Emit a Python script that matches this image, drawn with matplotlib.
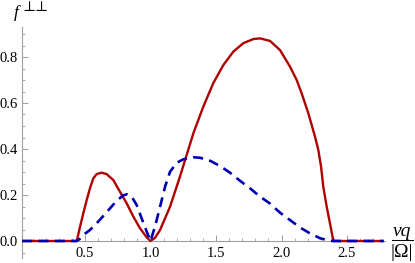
import matplotlib
matplotlib.use("Agg")
import matplotlib.pyplot as plt
from matplotlib.lines import Line2D
import numpy as np

plt.rcParams["font.family"] = ["Liberation Serif", "DejaVu Serif"]

# Data
red_x = [0.02, 0.437, 0.462, 0.487, 0.513, 0.538, 0.563, 0.589, 0.627, 0.665,
         0.716, 0.767, 0.818, 0.869, 0.920, 0.971, 1.0, 1.035, 1.073, 1.149,
         1.225, 1.276, 1.327, 1.403, 1.479, 1.556, 1.632, 1.708, 1.785, 1.836,
         1.912, 1.989, 2.065, 2.116, 2.154, 2.205, 2.256, 2.281, 2.302, 2.319,
         2.345, 2.370, 2.396, 2.78]
red_y = [0.0, 0.0, 0.062, 0.120, 0.178, 0.229, 0.272, 0.291, 0.297, 0.291,
         0.265, 0.214, 0.164, 0.106, 0.055, 0.016, 0.0, 0.014, 0.048, 0.149,
         0.280, 0.374, 0.468, 0.584, 0.686, 0.765, 0.823, 0.860, 0.878, 0.881,
         0.870, 0.830, 0.758, 0.700, 0.642, 0.555, 0.453, 0.396, 0.323, 0.236,
         0.149, 0.077, 0.0, 0.0]

blue_x = [0.02, 0.437, 0.46, 0.487, 0.538, 0.589, 0.640, 0.691, 0.742, 0.793,
          0.823, 0.856, 0.894, 0.932, 0.971, 1.0, 1.034, 1.073, 1.111, 1.149,
          1.200, 1.250, 1.327, 1.378, 1.454, 1.531, 1.607, 1.683, 1.760, 1.836,
          1.912, 1.989, 2.065, 2.141, 2.218, 2.294, 2.370, 2.40, 2.78]
blue_y = [0.0, 0.0, 0.009, 0.026, 0.048, 0.077, 0.109, 0.142, 0.175, 0.199,
          0.203, 0.193, 0.157, 0.099, 0.041, 0.0, 0.062, 0.149, 0.236, 0.301,
          0.340, 0.355, 0.364, 0.362, 0.349, 0.326, 0.297, 0.262, 0.229, 0.193,
          0.163, 0.123, 0.091, 0.059, 0.033, 0.012, 0.001, 0.0, 0.0]

x_ticks = [0.5, 1.0, 1.5, 2.0, 2.5]
x_tick_labels = ["0.5", "1.0", "1.5", "2.0", "2.5"]
y_ticks = [0.0, 0.2, 0.4, 0.6, 0.8]
y_tick_labels = ["0.0", "0.2", "0.4", "0.6", "0.8"]

W, H = 415, 263
fig = plt.figure(figsize=(W / 100, H / 100), dpi=100)
left_px, right_px, top_px, bottom_px = 22, 385, 27, 258
ax = fig.add_axes([left_px / W, 1 - bottom_px / H,
                   (right_px - left_px) / W, (bottom_px - top_px) / H])

x0 = (left_px - 19.5) / 131.0
x1 = (right_px - 19.5) / 131.0
ax.set_xlim(x0, x1)
ax.set_ylim(-(bottom_px - 241) / 230.0, (241 - top_px) / 230.0)
ax.patch.set_visible(False)

ax.plot(red_x, red_y, color="#b00000", lw=1.7, solid_capstyle="butt",
        solid_joinstyle="round", zorder=3)
ax.plot(blue_x, blue_y, color="#0000b0", lw=1.9, dashes=(3.8, 2.4), zorder=4)

for s in ["top", "right"]:
    ax.spines[s].set_visible(False)
ax.spines["bottom"].set_position(("data", 0.0))
gray = "#a0a0a0"
for s in ["left", "bottom"]:
    ax.spines[s].set_color(gray)
    ax.spines[s].set_linewidth(0.8)

ax.set_xticks(x_ticks)
ax.set_xticklabels(x_tick_labels)
ax.set_yticks(y_ticks)
ax.set_yticklabels(y_tick_labels)
ax.set_xticks(np.arange(0.1, 2.75, 0.1), minor=True)
ax.set_yticks(np.arange(-0.05, 0.92, 0.05), minor=True)

ax.tick_params(which="major", direction="in", length=4, width=0.7, color=gray,
               labelsize=10.5, pad=3)
ax.tick_params(which="minor", direction="in", length=2.2, width=0.6, color=gray)
ax.tick_params(axis="x", which="major", pad=4)

# axis labels
fig.text(14 / W, 1 - 17 / H, "f", fontfamily="Liberation Serif", fontstyle="italic",
         fontsize=12.5, ha="left", va="baseline")
fig.text(23 / W, 1 - 0 / H, "\u22a5\u22a5", fontfamily="DejaVu Serif",
         fontsize=10, ha="left", va="top")

fig.text(402 / W, 1 - 236 / H, "vq", fontfamily="Liberation Serif", fontstyle="italic",
         fontsize=14, ha="center", va="baseline")
fig.add_artist(Line2D([392 / W, 413 / W], [1 - 240 / H, 1 - 240 / H],
                      color="black", lw=0.7, transform=fig.transFigure))
fig.text(402 / W, 1 - 257 / H, "|\u03a9|", fontfamily="Liberation Serif",
         fontsize=14, ha="center", va="baseline")

fig.savefig("out.png", dpi=100)
